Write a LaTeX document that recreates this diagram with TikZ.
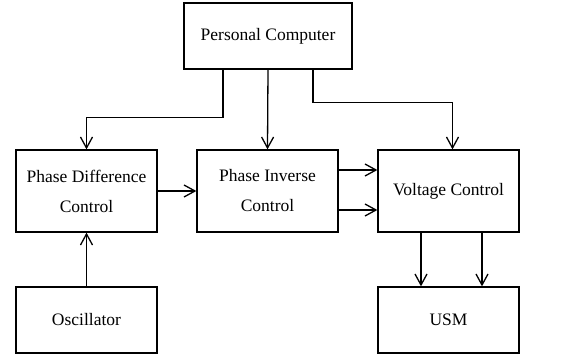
\documentclass[tikz,border=0pt]{standalone}
\usepackage{fontspec}
\setmainfont{Liberation Serif}
\newfontfamily\tnr{Liberation Serif}
\usetikzlibrary{arrows.meta}
\begin{document}
\begin{tikzpicture}[x=1pt,y=-1pt,
  blk/.style={draw,line width=1.3pt,minimum width=141pt,minimum height=82pt,inner sep=0pt,align=center,
    font=\tnr\fontsize{17.5}{30}\selectfont},
  arr/.style={line width=1.3pt,-{Straight Barb[length=11pt,width=12pt,line width=1.3pt]}}]
\useasboundingbox (0,0) rectangle (563,354);
\node[blk,minimum width=168pt,minimum height=66pt] (pc) at (268,36) {Personal Computer};
\node[blk] (pdc) at (86.5,191) {Phase Difference\\Control};
\node[blk] (pic) at (267.5,191) {Phase Inverse\\Control};
\node[blk] (vc) at (448.5,191) {Voltage Control};
\node[blk,minimum height=66pt] (osc) at (86.5,320) {Oscillator};
\node[blk,minimum height=66pt] (usm) at (448.5,320) {USM};
\draw[arr] ([xshift=-45pt]pc.south) -- ++(0,48) -| (pdc.north);
\draw[arr] (pc.south) -- (pic.north);
\draw[arr] ([xshift=45pt]pc.south) -- ++(0,33) -| ([xshift=4pt]vc.north);
\draw[arr] (pdc.east) -- (pic.west);
\draw[arr] ([yshift=21pt]pic.east) -- ([yshift=21pt]vc.west);
\draw[arr] ([yshift=-19pt]pic.east) -- ([yshift=-19pt]vc.west);
\draw[arr] ([xshift=-27.5pt]vc.south) -- ([xshift=-27.5pt]usm.north);
\draw[arr] ([xshift=33.5pt]vc.south) -- ([xshift=33.5pt]usm.north);
\draw[arr] (osc.north) -- (pdc.south);
\end{tikzpicture}
\end{document}
